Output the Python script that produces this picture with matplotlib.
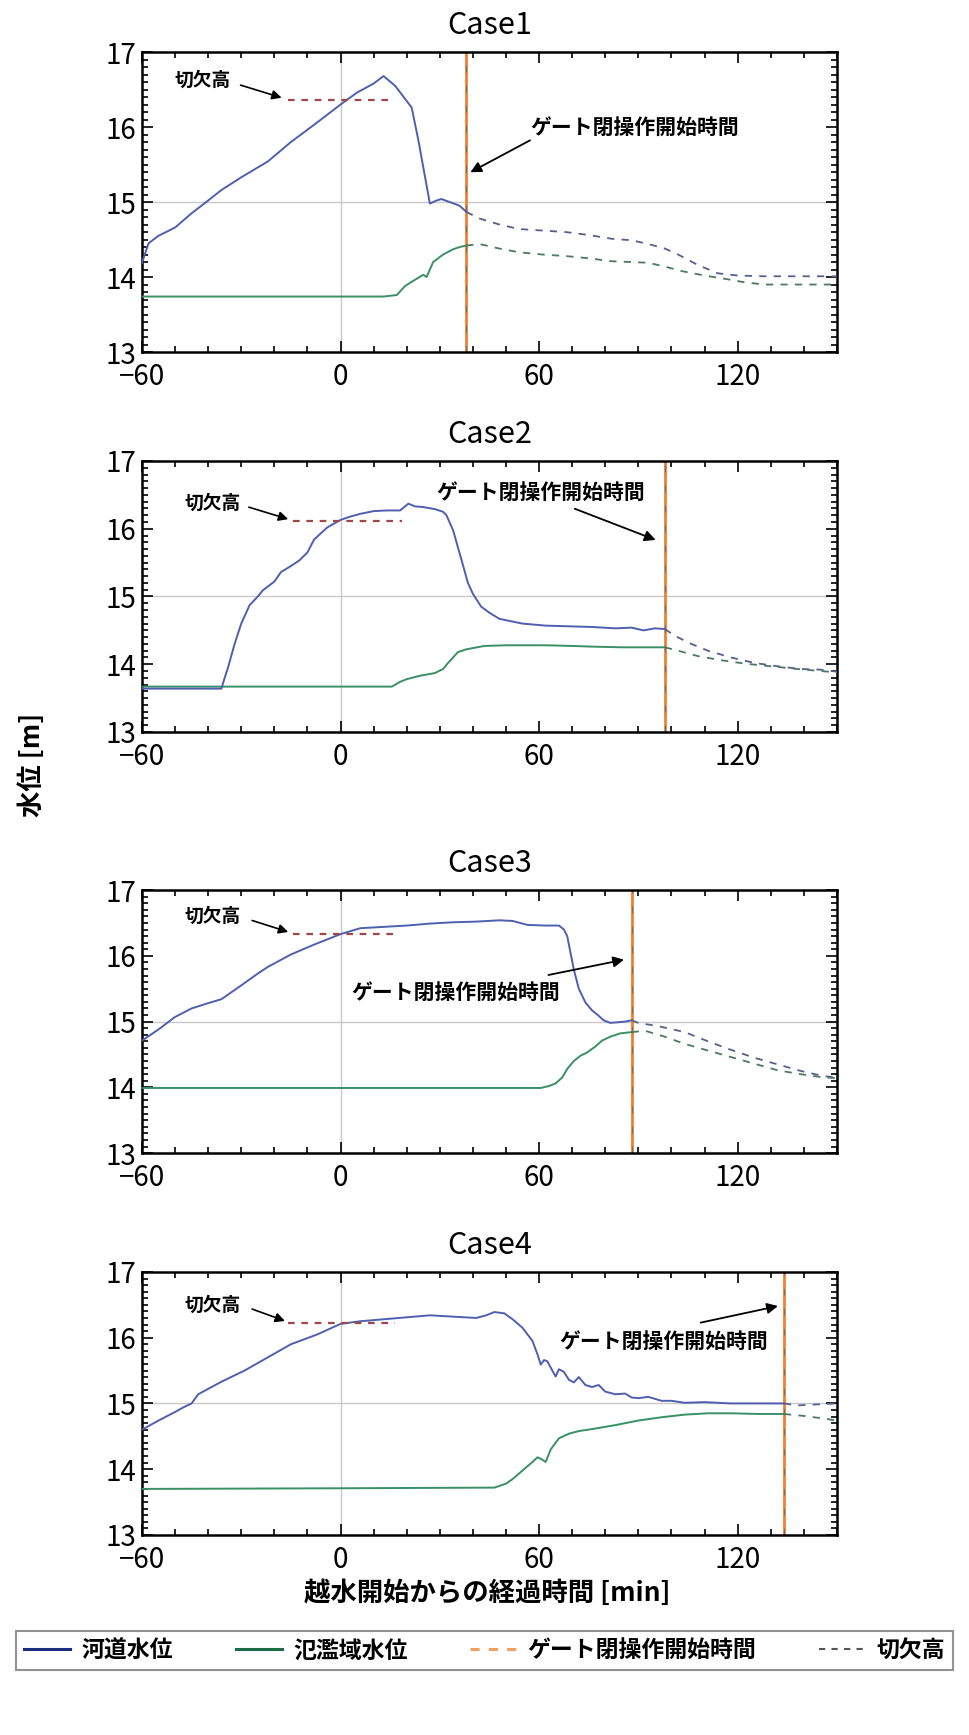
import matplotlib
matplotlib.use("Agg")
import matplotlib.pyplot as plt
from matplotlib.ticker import MultipleLocator
from matplotlib.lines import Line2D

plt.rcParams['font.family'] = ['Noto Sans CJK JP', 'DejaVu Sans']

# ---------- data ----------
cases = ["Case1", "Case2", "Case3", "Case4"]
gate_t = [38, 98, 88, 134]
notch_h = [16.36, 16.11, 16.33, 16.22]
notch_t0 = [-16, -14.5, -14.5, -16]
notch_t1 = [16, 18.5, 17, 16.5]

# Case1
c1_river_t = [-60, -58, -55, -50, -45, -40, -36, -30, -22, -15, -8, 0, 5, 10, 13, 16.5, 21.5, 23.5, 27, 29,
              30.5, 33, 36, 38]
c1_river_h = [14.19, 14.45, 14.55, 14.66, 14.85, 15.02, 15.16, 15.33, 15.54, 15.8, 16.03, 16.30, 16.46, 16.58,
              16.68, 16.55, 16.26, 15.83, 14.98, 15.02, 15.04, 15.0, 14.95, 14.87]
c1_river_after_t = [38, 42, 48, 54, 61, 68, 75, 82, 88, 93, 98, 102, 108, 114, 120, 128, 140, 150]
c1_river_after_h = [14.87, 14.78, 14.70, 14.64, 14.62, 14.60, 14.56, 14.51, 14.49, 14.44, 14.38, 14.30, 14.16,
                    14.05, 14.02, 14.01, 14.01, 14.01]
c1_flood_t = [-60, 13, 17, 19.5, 22, 23.5, 25, 26, 28, 31, 34, 36, 38]
c1_flood_h = [13.74, 13.74, 13.76, 13.88, 13.95, 13.99, 14.03, 14.00, 14.2, 14.3, 14.37, 14.4, 14.42]
c1_flood_after_t = [38, 42, 48, 54, 61, 68, 75, 82, 88, 93, 98, 103, 110, 117, 122, 128, 140, 150]
c1_flood_after_h = [14.42, 14.44, 14.38, 14.33, 14.3, 14.28, 14.25, 14.21, 14.2, 14.19, 14.14, 14.08, 14.02,
                    13.97, 13.93, 13.9, 13.9, 13.9]

# Case2
c2_river_t = [-60, -36, -35, -34, -32, -30, -27.5, -25, -23.5, -20, -18, -15, -12.5, -10, -8, -4, 0, 3, 6, 10,
              14, 18, 19.5, 20.5, 22.5, 25, 28.5, 31, 32, 34, 36.5, 38.5, 40, 42.5, 45, 48, 52, 55, 62, 69, 76,
              83, 88, 91.5, 95, 98]
c2_river_h = [13.64, 13.64, 13.8, 13.95, 14.3, 14.6, 14.87, 15.0, 15.09, 15.22, 15.36, 15.45, 15.53, 15.65,
              15.84, 16.02, 16.13, 16.18, 16.22, 16.26, 16.27, 16.27, 16.33, 16.37, 16.33, 16.32, 16.29, 16.25,
              16.2, 15.98, 15.55, 15.2, 15.04, 14.85, 14.76, 14.67, 14.63, 14.6, 14.57, 14.56, 14.55, 14.53,
              14.54, 14.5, 14.53, 14.52]
c2_river_after_t = [98, 101, 106, 111, 118, 125, 132, 139, 145, 150]
c2_river_after_h = [14.52, 14.42, 14.3, 14.2, 14.1, 14.02, 13.97, 13.93, 13.92, 13.89]
c2_flood_t = [-60, 15.5, 18, 20, 24, 28.5, 31, 32.5, 34, 35.5, 38, 43.5, 50, 62, 70, 76, 85, 98]
c2_flood_h = [13.67, 13.67, 13.74, 13.78, 13.83, 13.87, 13.93, 14.02, 14.1, 14.18, 14.22, 14.27, 14.28, 14.28,
              14.27, 14.26, 14.25, 14.25]
c2_flood_after_t = [98, 102, 108, 115, 122, 130, 138, 145, 150]
c2_flood_after_h = [14.25, 14.2, 14.12, 14.06, 14.01, 13.97, 13.93, 13.9, 13.88]

# Case3
c3_river_t = [-60, -55, -50, -45, -40, -36, -30, -25, -22, -15, -8, -3, 0, 6, 13, 20, 27, 34, 41, 48, 52, 56.5,
              62, 66, 67.5, 68.5, 70.5, 72, 74, 76, 77.5, 79.5, 81.5, 84, 86, 88]
c3_river_h = [14.71, 14.88, 15.07, 15.2, 15.28, 15.34, 15.55, 15.73, 15.83, 16.02, 16.17, 16.27, 16.33, 16.42,
              16.44, 16.46, 16.49, 16.51, 16.52, 16.54, 16.53, 16.47, 16.46, 16.46, 16.4, 16.3, 15.79, 15.5,
              15.29, 15.17, 15.11, 15.02, 14.98, 14.99, 15.0, 15.02]
c3_river_after_t = [88, 90, 96, 104, 111, 118, 125, 132, 139, 146, 150]
c3_river_after_h = [15.02, 14.98, 14.93, 14.84, 14.7, 14.57, 14.45, 14.35, 14.25, 14.17, 14.15]
c3_flood_t = [-60, 60.5, 63, 65, 67, 68.5, 70.5, 72.5, 74.5, 77, 79, 81.5, 84.5, 88]
c3_flood_h = [13.99, 13.99, 14.02, 14.06, 14.15, 14.28, 14.4, 14.48, 14.53, 14.62, 14.71, 14.77, 14.82, 14.84]
c3_flood_after_t = [88, 92, 98, 104, 111, 118, 125, 132, 139, 146, 150]
c3_flood_after_h = [14.84, 14.86, 14.77, 14.66, 14.56, 14.46, 14.36, 14.26, 14.2, 14.15, 14.14]

# Case4
c4_river_t = [-60, -55, -50, -47.5, -45, -43, -36, -29, -22, -15, -7, 0, 6, 13, 20, 27, 34, 41, 44, 46.5, 49.5,
              52, 55, 58, 59.5, 60.5, 61.5, 62.5, 64, 65, 66, 67.5, 69, 70.5, 72, 74, 76, 78, 80, 83, 86, 88, 90,
              93, 97, 100, 104, 110, 118, 126, 134]
c4_river_h = [14.6, 14.74, 14.87, 14.94, 15.0, 15.14, 15.33, 15.5, 15.7, 15.9, 16.05, 16.21, 16.25, 16.28,
              16.31, 16.34, 16.32, 16.3, 16.34, 16.39, 16.37, 16.28, 16.15, 15.95, 15.75, 15.59, 15.66, 15.64,
              15.5, 15.41, 15.52, 15.48, 15.36, 15.32, 15.4, 15.28, 15.25, 15.28, 15.18, 15.14, 15.15, 15.09,
              15.08, 15.1, 15.04, 15.04, 15.01, 15.02, 15.0, 15.0, 15.0]
c4_river_after_t = [134, 138, 142, 146, 150]
c4_river_after_h = [15.0, 14.97, 14.98, 14.99, 15.0]
c4_flood_t = [-60, 0, 46.5, 50, 52, 55, 58, 59.5, 60.5, 62, 63.5, 66, 69, 72, 76, 83, 90, 97, 104, 111, 118,
              126, 134]
c4_flood_h = [13.7, 13.71, 13.72, 13.78, 13.85, 13.98, 14.11, 14.18, 14.16, 14.11, 14.3, 14.47, 14.54, 14.58,
              14.61, 14.67, 14.74, 14.79, 14.83, 14.85, 14.85, 14.84, 14.84]
c4_flood_after_t = [134, 140, 146, 150]
c4_flood_after_h = [14.84, 14.81, 14.77, 14.74]

river_t = [c1_river_t, c2_river_t, c3_river_t, c4_river_t]
river_h = [c1_river_h, c2_river_h, c3_river_h, c4_river_h]
river_after_t = [c1_river_after_t, c2_river_after_t, c3_river_after_t, c4_river_after_t]
river_after_h = [c1_river_after_h, c2_river_after_h, c3_river_after_h, c4_river_after_h]
flood_t = [c1_flood_t, c2_flood_t, c3_flood_t, c4_flood_t]
flood_h = [c1_flood_h, c2_flood_h, c3_flood_h, c4_flood_h]
flood_after_t = [c1_flood_after_t, c2_flood_after_t, c3_flood_after_t, c4_flood_after_t]
flood_after_h = [c1_flood_after_h, c2_flood_after_h, c3_flood_after_h, c4_flood_after_h]

# ---------- annotation placement (text xy, arrow tail, arrow head) ----------
notch_text = [(-50, 16.63), (-47, 16.38), (-47, 16.6), (-47, 16.5)]
notch_arrow = [((-31, 16.57), (-17, 16.38)), ((-28.5, 16.33), (-15, 16.13)),
               ((-27.5, 16.55), (-15, 16.35)), ((-27.5, 16.45), (-16, 16.24))]
gate_text = [(89, 16.0), (60.5, 16.53), (34.7, 15.45), (97.8, 15.95)]
gate_arrow = [((58, 15.84), (38.5, 15.38)), ((70, 16.31), (96, 15.82)),
              ((62, 15.7), (86.5, 15.95)), ((108, 16.22), (133, 16.49))]

# ---------- styles ----------
C_RIVER = "#4f5fb0"
C_FLOOD = "#3a9066"
C_GATE = "#f08030"
C_NOTCH = "#a04848"
C_GRID = "#c8c8c8"

fig = plt.figure(figsize=(9.69, 17.35), dpi=100)
rects = [(0.1465, 0.7971, 0.7172, 0.1729),
         (0.1465, 0.5781, 0.7172, 0.1562),
         (0.1465, 0.3354, 0.7172, 0.1516),
         (0.1465, 0.1153, 0.7172, 0.1516)]

for i, rect in enumerate(rects):
    ax = fig.add_axes(rect)
    ax.axhline(15, color=C_GRID, lw=1.0, zorder=0)
    ax.axvline(0, color=C_GRID, lw=1.0, zorder=0)

    ax.plot(flood_t[i], flood_h[i], color=C_FLOOD, lw=1.4, zorder=3)
    ax.plot(river_t[i], river_h[i], color=C_RIVER, lw=1.4, zorder=3)
    ax.plot(river_after_t[i], river_after_h[i], color="#55608f", lw=1.3, dashes=(4, 4), zorder=3)
    ax.plot(flood_after_t[i], flood_after_h[i], color="#4a7a62", lw=1.3, dashes=(4, 4), zorder=3)
    ax.plot([notch_t0[i], notch_t1[i]], [notch_h[i], notch_h[i]], color=C_NOTCH, lw=1.6,
            dashes=(3, 3), zorder=4)

    ax.axvline(gate_t[i], color=C_GATE, lw=2.0, zorder=2)
    ax.axvline(gate_t[i], color="#707070", lw=0.8, dashes=(6, 12), zorder=2)

    # labels with arrows
    ax.text(notch_text[i][0], notch_text[i][1], "切欠高", fontsize=13.5,
            fontweight='bold', ha='left', va='center', zorder=6)
    ax.annotate("", xy=notch_arrow[i][1], xytext=notch_arrow[i][0],
                arrowprops=dict(arrowstyle='-|>', color='black', lw=1.2, mutation_scale=14))
    ax.text(gate_text[i][0], gate_text[i][1], "ゲート閉操作開始時間", fontsize=15,
            fontweight='bold', ha='center', va='center', zorder=6)
    ax.annotate("", xy=gate_arrow[i][1], xytext=gate_arrow[i][0],
                arrowprops=dict(arrowstyle='-|>', color='black', lw=1.3, mutation_scale=16))

    ax.set_xlim(-60, 150)
    ax.set_ylim(13, 17)
    ax.xaxis.set_major_locator(MultipleLocator(60))
    ax.xaxis.set_minor_locator(MultipleLocator(10))
    ax.yaxis.set_major_locator(MultipleLocator(1))
    ax.yaxis.set_minor_locator(MultipleLocator(0.1))
    ax.tick_params(which='both', direction='in', top=True, right=True, labelsize=20, width=1.2)
    ax.tick_params(which='major', length=8, pad=4)
    ax.tick_params(axis='x', which='major', pad=7)
    ax.tick_params(which='minor', length=4)
    for sp in ax.spines.values():
        sp.set_linewidth(1.8)
    ax.set_title(cases[i], fontsize=22, pad=13)

fig.text(0.5026, 0.0818, "越水開始からの経過時間 [min]", fontsize=19, fontweight='bold',
         ha='center', va='center')
fig.text(0.034, 0.559, "水位 [m]", fontsize=19, fontweight='bold', rotation=90,
         ha='center', va='center')

handles = [Line2D([], [], color="#1c2d80", lw=2.2),
           Line2D([], [], color="#1f6a46", lw=2.2),
           Line2D([], [], color="#f0a060", lw=2.2, dashes=(3, 3)),
           Line2D([], [], color="#555555", lw=1.5, dashes=(3, 3))]
labels = ["河道水位", "氾濫域水位", "ゲート閉操作開始時間", "切欠高"]
leg = fig.legend(handles, labels, loc='center', bbox_to_anchor=(0.005, 0.0365, 0.99, 0.024),
                 mode='expand', ncol=4, frameon=True, fancybox=False, edgecolor='#777777',
                 prop={'size': 16.5, 'weight': 'bold'}, handlelength=2.0,
                 handletextpad=0.5, columnspacing=0.8, borderpad=0.35)
leg.get_frame().set_linewidth(1.5)

fig.savefig("out.png", dpi=100)
